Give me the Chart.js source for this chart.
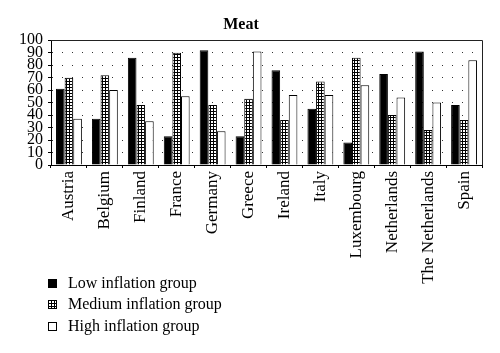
<!DOCTYPE html>
<html><head><meta charset="utf-8">
<script src="https://cdn.jsdelivr.net/npm/chart.js@4.4.1/dist/chart.umd.min.js"></script>
<style>html,body{margin:0;padding:0;background:#fff}#wrap{width:500px;height:353px;position:relative}</style>
</head><body><div id="wrap"><canvas id="c" width="500" height="353"></canvas></div>
<script>
const categories = ['Austria','Belgium','Finland','France','Germany','Greece','Ireland','Italy','Luxembourg','Netherlands','The Netherlands','Spain'];
const lowInflation    = [61, 37, 86, 23, 92, 23, 76, 45, 18, 73, 91, 48];
const mediumInflation = [70, 72, 48, 90, 48, 53, 36, 67, 86, 40, 28, 36];
const highInflation   = [37, 60, 35, 55, 27, 91, 56, 56, 64, 54, 50, 84];
const seriesNames = ['Low inflation group', 'Medium inflation group', 'High inflation group'];
const chartTitle = 'Meat';
const yMin = 0, yMax = 100, yStep = 10;

const SERIF = '"Liberation Serif", "DejaVu Serif", serif';

function makePattern() {
  const c = document.createElement('canvas');
  c.width = 3; c.height = 3;
  const x = c.getContext('2d');
  x.fillStyle = '#000'; x.fillRect(0, 0, 3, 3);
  x.fillStyle = '#fff'; x.fillRect(1, 1, 2, 2);
  return document.getElementById('c').getContext('2d').createPattern(c, 'repeat');
}
const dotted = makePattern();

const framePlugin = {
  id: 'frame',
  afterDatasetsDraw(chart) {
    const {ctx, chartArea: a} = chart;
    ctx.save();
    ctx.strokeStyle = '#222';
    ctx.lineWidth = 1;
    ctx.beginPath();
    ctx.moveTo(a.left, Math.round(a.top) + 0.5);
    ctx.lineTo(Math.round(a.right) + 0.5, Math.round(a.top) + 0.5);
    ctx.lineTo(Math.round(a.right) + 0.5, a.bottom);
    ctx.stroke();
    ctx.restore();
  }
};

const legendPlugin = {
  id: 'vlegend',
  afterDraw(chart) {
    const {ctx} = chart;
    ctx.save();
    ctx.font = '16px ' + SERIF;
    ctx.textBaseline = 'middle';
    ctx.textAlign = 'left';
    chart.data.datasets.forEach((ds, i) => {
      const cy = 282.5 + i * 21.7;
      ctx.fillStyle = ds.backgroundColor;
      ctx.fillRect(48.5, Math.round(cy - 4) + 0.5, 8, 8);
      ctx.strokeStyle = '#000';
      ctx.lineWidth = 1;
      ctx.strokeRect(48.5, Math.round(cy - 4) + 0.5, 8, 8);
      ctx.fillStyle = '#000';
      ctx.fillText(ds.label, 68, cy + 1);
    });
    ctx.restore();
  }
};

new Chart(document.getElementById('c'), {
  type: 'bar',
  data: {
    labels: categories,
    datasets: [
      {label: seriesNames[0], data: lowInflation, backgroundColor: '#000'},
      {label: seriesNames[1], data: mediumInflation, backgroundColor: dotted},
      {label: seriesNames[2], data: highInflation, backgroundColor: '#fff'}
    ].map(d => Object.assign(d, {borderColor: '#000', borderWidth: 1, categoryPercentage: 0.72, barPercentage: 1}))
  },
  options: {
    responsive: false,
    animation: false,
    events: [],
    layout: {padding: {left: 0, right: 18, top: 0, bottom: 0}},
    plugins: {
      legend: {display: false},
      tooltip: {enabled: false},
      title: {
        display: true, text: chartTitle, color: '#000',
        font: {family: SERIF, size: 16, weight: 'bold', lineHeight: 1.2},
        padding: {top: 15, bottom: 6}
      }
    },
    scales: {
      x: {
        grid: {display: true, drawOnChartArea: false, drawTicks: true, tickLength: 3, tickColor: '#000', color: '#000'},
        border: {display: true, color: '#000', width: 1},
        ticks: {
          color: '#000', font: {family: SERIF, size: 17},
          minRotation: 90, maxRotation: 90, autoSkip: false, padding: 3
        },
        afterFit(s) { s.height = 188; }
      },
      y: {
        min: yMin, max: yMax,
        grid: {
          color: (c) => (c.tick && (c.tick.value === yMin || c.tick.value === yMax)) ? 'rgba(0,0,0,0)' : '#333',
          lineWidth: 1, drawTicks: true, tickLength: 3, tickColor: '#000'
        },
        border: {display: true, color: '#000', width: 1, dash: [1, 9]},
        ticks: {stepSize: yStep, autoSkip: false, color: '#000', font: {family: SERIF, size: 16, lineHeight: 1}, padding: 5},
        afterFit(s) { s.width = 51; }
      }
    }
  },
  plugins: [framePlugin, legendPlugin]
});
</script>
</body></html>
